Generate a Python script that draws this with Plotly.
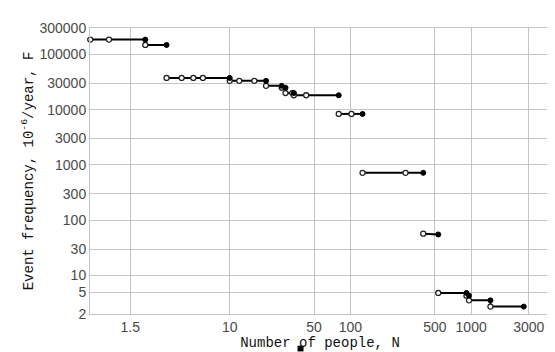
import math
import plotly.graph_objects as go

# Path of the step curve (vertices in order); None breaks the line between groups
path_n = [0.70, 2.0, 2.0, 3.0, None,
          3.0, 10, 10, 20, 20, 27, 27, 29, 29, 34, 34, 80, None,
          80, 126, None,
          126, 401, None,
          401, 534, None,
          534, 914, 914, 960, 960, 1444, 1444, 2726]
path_f = [185000, 185000, 148000, 148000, None,
          37400, 37400, 33150, 33150, 26900, 26900, 24850, 24850, 19950, 19950, 18190, 18190, None,
          8360, 8360, None,
          718, 718, None,
          56.9, 55.0, None,
          4.81, 4.81, 4.3, 4.3, 3.53, 3.53, 2.72, 2.72]

# Open (hollow) points
open_n = [0.70, 1.0, 2.0, 3.0, 4.0, 5.0, 6.0, 10, 12, 16, 20, 27, 29, 33, 34, 43,
          80, 102, 126, 286, 401, 534, 914, 960, 1444]
open_f = [185000, 185000, 148000, 37400, 37400, 37400, 37400, 33150, 33150, 33150,
          26900, 24850, 19950, 19950, 18190, 18190,
          8360, 8360, 718, 718, 56.9, 4.81, 4.3, 3.53, 2.72]

# Filled points
fill_n = [2.0, 3.0, 10, 20, 27, 29, 34, 80, 126, 401, 534, 914, 960, 1444, 2726]
fill_f = [185000, 148000, 37400, 33150, 26900, 24850, 19950, 18190, 8360, 718, 55.0,
          4.81, 4.3, 3.53, 2.72]

x_ticks = [1.5, 10, 50, 100, 500, 1000, 3000]
x_ticktext = ["1.5", "10", "50", "100", "500", "1000", "3000"]
y_ticks = [2, 5, 10, 30, 100, 300, 1000, 3000, 10000, 30000, 100000, 300000]
y_ticktext = [str(v) for v in y_ticks]

fig = go.Figure()
fig.add_trace(go.Scatter(x=path_n, y=path_f, mode="lines",
                         line=dict(color="black", width=2), connectgaps=False,
                         hoverinfo="skip", cliponaxis=False))
fig.add_trace(go.Scatter(x=open_n, y=open_f, mode="markers", cliponaxis=False,
                         marker=dict(symbol="circle", size=5, color="white",
                                     line=dict(color="#222", width=1.3))))
fig.add_trace(go.Scatter(x=fill_n, y=fill_f, mode="markers", cliponaxis=False,
                         marker=dict(symbol="circle", size=5, color="black",
                                     line=dict(color="black", width=1))))

grid = "#c4c4c4"
tick_font = dict(family="Liberation Sans, Arial", size=14, color="#4a4a4a")
title_font = dict(family="Liberation Mono, Courier New", size=14, color="#111")
fig.update_layout(
    width=555, height=352,
    margin=dict(l=82, r=12, t=13, b=41),
    paper_bgcolor="white", plot_bgcolor="white",
    showlegend=False,
    xaxis=dict(type="log", range=[-0.157, 3.653], tickvals=x_ticks, ticktext=x_ticktext,
               showgrid=True, gridcolor=grid, gridwidth=1,
               showline=True, linecolor=grid, linewidth=1, mirror=True,
               zeroline=False, ticks="", tickfont=tick_font,
               title=dict(text="Number of people, N", standoff=3, font=title_font)),
    yaxis=dict(type="log", range=[math.log10(2), math.log10(300000)],
               tickvals=y_ticks, ticktext=y_ticktext,
               showgrid=True, gridcolor=grid, gridwidth=1,
               showline=True, linecolor=grid, linewidth=1, mirror=True,
               zeroline=False, ticks="", tickfont=tick_font,
               title=dict(text="Event frequency, 10<sup>-6</sup>/year, F", standoff=2,
                          font=title_font)),
    shapes=[dict(type="rect", xref="paper", yref="paper",
                 x0=(290 - 82) / 461, x1=(296 - 82) / 461,
                 y0=(311 - 350) / 298, y1=(311 - 344) / 298,
                 fillcolor="black", line=dict(width=0))],
)

fig.write_html("out.html")
